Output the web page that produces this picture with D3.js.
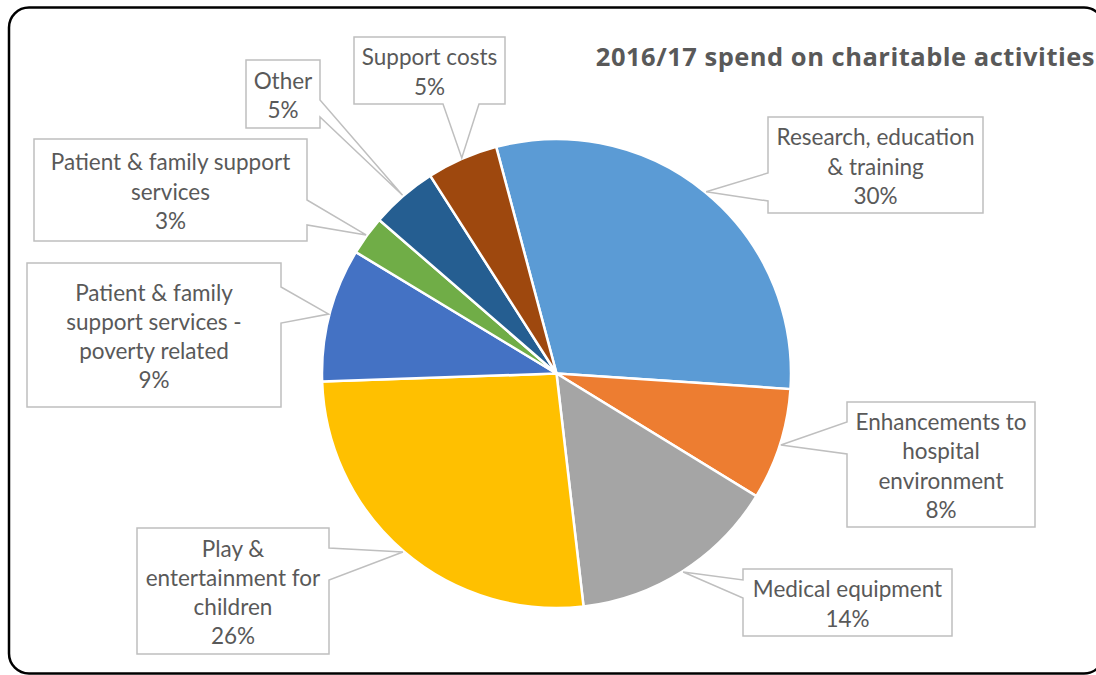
<!DOCTYPE html>
<html lang="en">
<head>
    <meta charset="UTF-8"/>
    <title>2016/17 spend on charitable activities</title>
    <script src="https://cdnjs.cloudflare.com/ajax/libs/d3/7.8.5/d3.min.js"></script>
    <style>
        html, body { margin: 0; padding: 0; background: #fff; }
        svg { display: block; font-family: Lato, "Open Sans", sans-serif; }
        .frame { fill: none; stroke: #000; stroke-width: 2.5; }
        .slice { stroke: #fff; stroke-width: 2.5; }
        .callout { fill: #fff; stroke: #bfbfbf; stroke-width: 1.5; }
        .callout-text { fill: #595959; font-size: 22.5px; }
        .title { fill: #595959; font-family: "Open Sans", sans-serif; font-size: 25.5px; font-weight: bold; letter-spacing: 0.5px; }
    </style>
</head>
<body>
<div id="chart"></div>

<script>
    // Chart data
    const title = "2016/17 spend on charitable activities";
    const categories = [
        "Research, education & training",
        "Enhancements to hospital environment",
        "Medical equipment",
        "Play & entertainment for children",
        "Patient & family support services - poverty related",
        "Patient & family support services",
        "Other",
        "Support costs"
    ];
    const values = [30.2, 7.7, 14.4, 26.3, 9.2, 2.7, 4.6, 4.9];
    const colors = ["#5b9bd5", "#ed7d31", "#a5a5a5", "#ffc000", "#4472c4", "#70ad47", "#255e91", "#9e480e"];

    // Callout layout: box, side the pointer leaves from, pointer base, words per line
    const callouts = [
        {x: 768, y: 117, w: 215, h: 96, side: "left", base: [173, 201], words: [2, 2]},
        {x: 847, y: 402, w: 188, h: 125, side: "left", base: [422, 454], words: [2, 1, 1]},
        {x: 743, y: 569, w: 209, h: 67, side: "left", base: [580, 598], words: [2]},
        {x: 137, y: 528, w: 192, h: 126, side: "right", base: [548, 580], words: [2, 2, 1]},
        {x: 27, y: 263, w: 254, h: 144, side: "right", base: [287, 323], words: [3, 3, 2]},
        {x: 34, y: 139, w: 273, h: 102, side: "right", base: [200, 225], words: [4, 1]},
        {x: 246, y: 60, w: 74, h: 68, side: "right", base: [100, 117], words: [1]},
        {x: 354, y: 37, w: 151, h: 67, side: "bottom", base: [443, 479], words: [2]}
    ];

    const width = 1096;
    const height = 675;
    const cx = 556.5;
    const cy = 373.5;
    const radius = 234.5;
    const lineHeight = 29.3;
    const startAngle = -14.9 * Math.PI / 180;

    const svg = d3
        .select("#chart")
        .append("svg")
        .attr("width", width)
        .attr("height", height);

    // Rounded outer frame
    svg
        .append("rect")
        .attr("class", "frame")
        .attr("x", 9)
        .attr("y", 7.5)
        .attr("width", 1095)
        .attr("height", 666)
        .attr("rx", 20);

    // Title
    svg
        .append("text")
        .attr("class", "title")
        .attr("x", 1095)
        .attr("y", 66)
        .attr("text-anchor", "end")
        .text(title);

    const pie = d3
        .pie()
        .sort(null)
        .value((d) => d)
        .startAngle(startAngle)
        .endAngle(startAngle + 2 * Math.PI);

    const arcs = pie(values);
    const total = d3.sum(values);

    const arc = d3.arc().innerRadius(0).outerRadius(radius);
    const tipArc = d3.arc().innerRadius(radius + 1).outerRadius(radius + 1);

    const pieGroup = svg.append("g").attr("transform", `translate(${cx},${cy})`);

    pieGroup
        .selectAll(".slice")
        .data(arcs)
        .enter()
        .append("path")
        .attr("class", "slice")
        .attr("d", arc)
        .attr("fill", (d, i) => colors[i]);

    // Callout outline with pointer towards the slice
    function calloutPath(b, tip) {
        const x0 = b.x, y0 = b.y, x1 = b.x + b.w, y1 = b.y + b.h;
        const pts = [[x0, y0], [x1, y0]];
        if (b.side === "right") {
            pts.push([x1, b.base[0]], tip, [x1, b.base[1]]);
        }
        pts.push([x1, y1]);
        if (b.side === "bottom") {
            pts.push([b.base[1], y1], tip, [b.base[0], y1]);
        }
        pts.push([x0, y1]);
        if (b.side === "left") {
            pts.push([x0, b.base[1]], tip, [x0, b.base[0]]);
        }
        return "M" + pts.map((p) => p.join(",")).join("L") + "Z";
    }

    const labels = svg
        .selectAll(".label")
        .data(arcs)
        .enter()
        .append("g")
        .attr("class", "label");

    labels
        .append("path")
        .attr("class", "callout")
        .attr("d", (d, i) => {
            const c = tipArc.centroid(d);
            return calloutPath(callouts[i], [c[0] + cx, c[1] + cy]);
        });

    labels.each(function (d, i) {
        const b = callouts[i];
        const words = categories[i].split(" ");
        const lines = [];
        let k = 0;
        b.words.forEach((n) => {
            lines.push(words.slice(k, k + n).join(" "));
            k += n;
        });
        lines.push(Math.round(d.value / total * 100) + "%");

        const midY = b.y + b.h / 2;
        d3.select(this)
            .selectAll("text")
            .data(lines)
            .enter()
            .append("text")
            .attr("class", "callout-text")
            .attr("x", b.x + b.w / 2)
            .attr("y", (t, j) => midY + (j - (lines.length - 1) / 2) * lineHeight + 9.5)
            .attr("text-anchor", "middle")
            .text((t) => t);
    });
</script>
</body>
</html>
